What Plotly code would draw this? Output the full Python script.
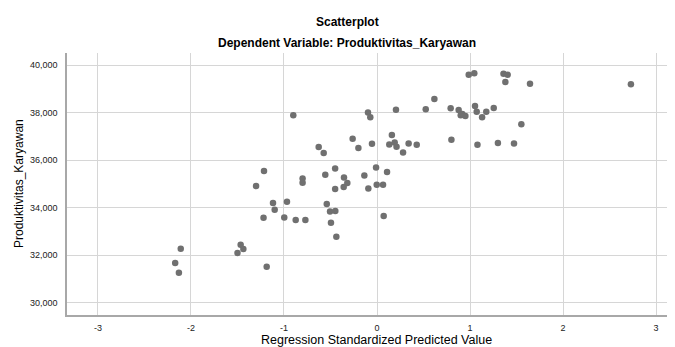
import plotly.graph_objects as go

# Regression standardized predicted value (x) vs Produktivitas_Karyawan (y)
pred_values = [
    -2.11, -2.17, -2.13, -1.466, -1.437, -1.50, -1.186, -1.215, -1.30, -1.118,
    -1.10, -1.22, -0.968, -0.997, -0.874, -0.77, -0.80, -0.80, -0.627, -0.573,
    -0.556, -0.45, -0.355, -0.319, -0.358, -0.45, -0.54, -0.505, -0.448, -0.495,
    -0.437, -0.262, -0.20, -0.054, -0.136, -0.093, -0.01, 0.108, -0.003, 0.065,
    0.072, 0.132, 0.19, 0.21, 0.16, -0.90, -0.097, -0.072, 0.204, 0.524,
    0.617, 0.792, 0.878, 0.90, 0.917, 0.95, 1.054, 1.072, 1.175, 1.13,
    1.255, 1.552, 0.28, 0.34, 0.427, 0.80, 1.08, 1.30, 1.473, 0.986,
    1.046, 1.36, 1.405, 1.38, 1.645, 2.73,
]
productivity = [
    32266, 31664, 31255, 32434, 32253, 32085, 31508, 35537, 34905, 34190,
    33908, 33570, 34244, 33584, 33474, 33474, 35225, 35044, 36547, 36295,
    35381, 35646, 35267, 35032, 34863, 34779, 34148, 33836, 33853, 33360,
    32771, 36897, 36505, 36686, 35352, 34804, 35689, 35494, 34960, 34960,
    33642, 36657, 36741, 36560, 37052, 37880, 37996, 37802, 38120, 38135,
    38569, 38177, 38106, 37881, 37938, 37853, 38274, 38034, 38034, 37802,
    38190, 37504, 36320, 36700, 36644, 36855, 36644, 36713, 36700, 39592,
    39650, 39634, 39592, 39284, 39213, 39187,
]

x_tick_vals = [-3, -2, -1, 0, 1, 2, 3]
x_tick_text = ["-3", "-2", "-1", "0", "1", "2", "3"]
y_tick_vals = [30000, 32000, 34000, 36000, 38000, 40000]
y_tick_text = ["30,000", "32,000", "34,000", "36,000", "38,000", "40,000"]

title_text = "Scatterplot"
subtitle_text = "Dependent Variable: Produktivitas_Karyawan"
x_title = "Regression Standardized Predicted Value"
y_title = "Produktivitas_Karyawan"

FONT = "Liberation Sans, Arial, sans-serif"
OFF = 8  # page body margin
W, H = 675 - OFF, 347 - OFF
L, R, T, B = 67 - OFF, 0, 53 - OFF, 32
plot_w = W - L - R
plot_h = H - T - B

fig = go.Figure()
fig.add_trace(go.Scatter(
    x=pred_values, y=productivity, mode="markers",
    marker=dict(size=6.5, color="#707070", line=dict(width=0)),
    hoverinfo="x+y", showlegend=False,
))

axis_common = dict(
    showgrid=True, gridcolor="#d6d6d6", gridwidth=1,
    zeroline=False, showline=True, linecolor="#a8a8a8", linewidth=1.5,
    ticks="",
    tickfont=dict(family=FONT, size=9, color="#222222"),
    automargin=False,
)

fig.update_xaxes(range=[-3.333, 3.204], tickmode="array", ticklabelstandoff=3,
                 tickvals=x_tick_vals, ticktext=x_tick_text, **axis_common)
fig.update_yaxes(range=[29475, 40505], tickmode="array", ticklabelstandoff=6,
                 tickvals=y_tick_vals, ticktext=y_tick_text, **axis_common)

def px_x(p):
    return (p - OFF - L) / plot_w

def px_y(p):
    return (H - B - (p - OFF)) / plot_h

annotations = [
    dict(text=f"<b>{title_text}</b>", x=px_x(347), y=px_y(22),
         font=dict(family=FONT, size=12, color="#000000")),
    dict(text=f"<b>{subtitle_text}</b>", x=px_x(347), y=px_y(43),
         font=dict(family=FONT, size=12, color="#000000")),
    dict(text=x_title, x=px_x(377), y=px_y(340),
         font=dict(family=FONT, size=12.5, color="#000000")),
    dict(text=y_title, x=px_x(19), y=px_y(184), textangle=-90,
         font=dict(family=FONT, size=12, color="#000000")),
]
for a in annotations:
    a.update(xref="paper", yref="paper", showarrow=False,
             xanchor="center", yanchor="middle")

fig.update_layout(
    width=W, height=H,
    margin=dict(l=L, r=R, t=T, b=B, autoexpand=False),
    paper_bgcolor="white", plot_bgcolor="white",
    annotations=annotations,
    font=dict(family=FONT),
)

fig.write_html("out.html")
